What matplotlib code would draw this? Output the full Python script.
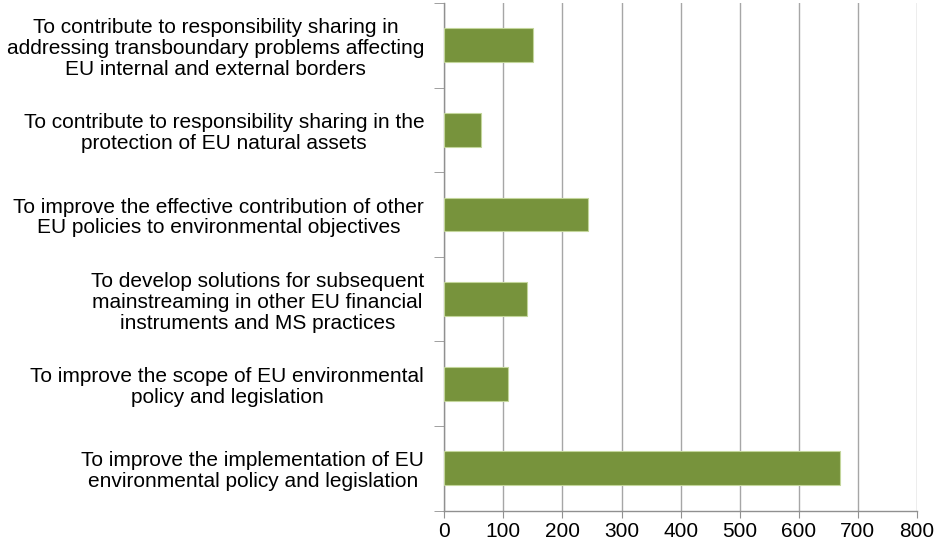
import numpy as np
import matplotlib
matplotlib.use("Agg")
import matplotlib.pyplot as plt

plt.rcParams['font.family'] = ['Liberation Sans', 'DejaVu Sans']

# objectives, top to bottom
objectives = [
    "To contribute to responsibility sharing in\naddressing transboundary problems affecting\nEU internal and external borders",
    "To contribute to responsibility sharing in the\nprotection of EU natural assets",
    "To improve the effective contribution of other\nEU policies to environmental objectives",
    "To develop solutions for subsequent\nmainstreaming in other EU financial\ninstruments and MS practices",
    "To improve the scope of EU environmental\npolicy and legislation",
    "To improve the implementation of EU\nenvironmental policy and legislation",
]
responses = [150, 62, 244, 140, 107, 670]
x_ticks = [0, 100, 200, 300, 400, 500, 600, 700, 800]

fig = plt.figure(figsize=(9.36, 5.44), dpi=100)
ax = fig.add_axes([0.4747, 0.0612, 0.505, 0.9333])

pos = np.arange(len(objectives))
ax.barh(pos, responses, height=0.4, color='#77933C', edgecolor='#c3d69b',
        linewidth=0.8, zorder=3)

ax.set_xlim(0, 800)
ax.set_ylim(len(objectives) - 0.5, -0.5)
ax.set_xticks(x_ticks)
ax.xaxis.grid(True, color='#a6a6a6', linewidth=1.0, zorder=0)

ax.set_yticks(pos)
ax.set_yticklabels(objectives, ha='right', multialignment='center',
                   fontsize=15, linespacing=1.13)
ax.set_yticks(np.arange(-0.5, len(objectives), 1.0), minor=True)
ax.tick_params(axis='y', which='major', length=0, pad=14.5)
ax.tick_params(axis='y', which='minor', length=7, color='#909090', direction='out')
ax.tick_params(axis='x', length=5, color='#909090', labelsize=15, pad=3)

for s in ['top', 'right']:
    ax.spines[s].set_visible(False)
for s in ['left', 'bottom']:
    ax.spines[s].set_color('#909090')
    ax.spines[s].set_linewidth(1.0)

fig.savefig("out.png", dpi=100)
